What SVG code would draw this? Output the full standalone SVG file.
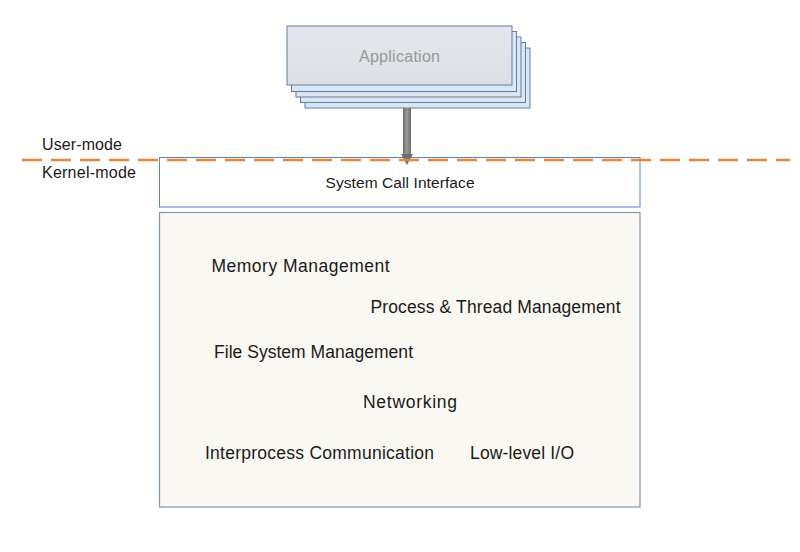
<svg xmlns="http://www.w3.org/2000/svg" width="800" height="552" viewBox="0 0 800 552">
<defs>
<linearGradient id="appg" x1="0" y1="0" x2="0" y2="1">
<stop offset="0" stop-color="#e4e7eb"/>
<stop offset="1" stop-color="#dcdfe3"/>
</linearGradient>
<linearGradient id="arrg" x1="0" y1="0" x2="1" y2="0">
<stop offset="0" stop-color="#6e6e6e"/>
<stop offset="0.5" stop-color="#9a9a9a"/>
<stop offset="1" stop-color="#6a6a6a"/>
</linearGradient>
<style>
.layer{fill:#dce6f0;stroke:#5a7fa8;stroke-width:1}
.front{fill:url(#appg);stroke:#5a7fa8;stroke-width:1}
.t{font-family:"Liberation Sans",Arial,sans-serif;fill:#1a1a1a}
.k{font-size:17.5px}
</style>
</defs>
<rect width="800" height="552" fill="#ffffff"/>
<g id="application">
<rect class="layer" x="305" y="48" width="225" height="60"/>
<rect class="layer" x="300.5" y="42.5" width="225" height="60"/>
<rect class="layer" x="296" y="37" width="225" height="60"/>
<rect class="layer" x="291.5" y="31.5" width="225" height="60"/>
<rect class="front" x="287" y="26" width="225" height="59"/>
<text class="t" x="399.5" y="62" text-anchor="middle" font-size="16" style="fill:#999999" textLength="81">Application</text>
</g>
<g id="system-call-interface">
<rect x="159.5" y="157.5" width="480.5" height="49.5" fill="#ffffff" stroke="#5b84c0" stroke-width="1"/>
<text class="t" x="400" y="188" text-anchor="middle" font-size="15.5" textLength="149">System Call Interface</text>
</g>
<g id="kernel">
<rect x="159.5" y="212.5" width="480.5" height="294.5" fill="#faf8f2" stroke="#7f97b5" stroke-width="1.2"/>
<text class="t k" x="211.5" y="271.5" textLength="178">Memory Management</text>
<text class="t k" x="370.5" y="312.5" textLength="250">Process &amp; Thread Management</text>
<text class="t k" x="214" y="358" textLength="199">File System Management</text>
<text class="t k" x="363" y="408" textLength="94">Networking</text>
<text class="t k" x="205" y="459" textLength="229">Interprocess Communication</text>
<text class="t k" x="470" y="458.5" textLength="104">Low-level I/O</text>
</g>
<g id="connectors">
<rect x="403" y="108" width="8" height="47" fill="url(#arrg)"/>
<path d="M401,154 L413,154 L407,165 Z" fill="#6e6e6e"/>
<line x1="22" y1="160" x2="790" y2="160" stroke="#e8853a" stroke-width="2.6" stroke-dasharray="20,9"/>
</g>
<g id="mode-labels">
<text class="t" x="42" y="150" font-size="16" textLength="80">User-mode</text>
<text class="t" x="42" y="178" font-size="16" textLength="94">Kernel-mode</text>
</g>
</svg>
